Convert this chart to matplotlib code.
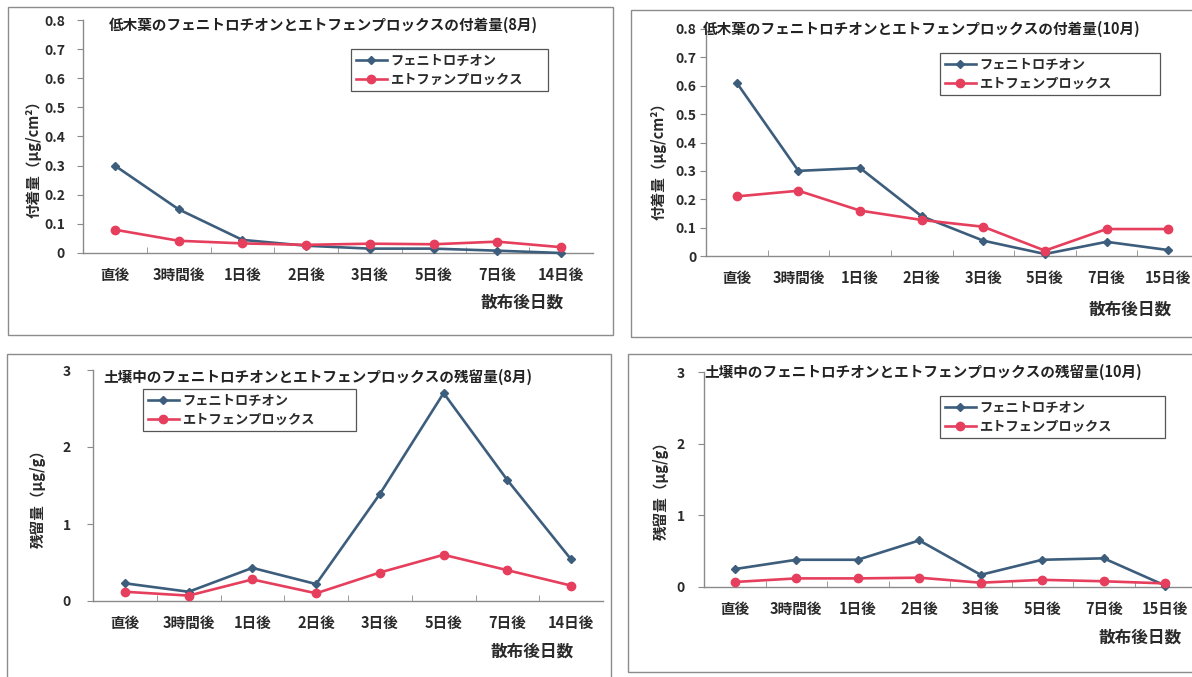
import matplotlib
matplotlib.use('Agg')
import matplotlib.pyplot as plt
from matplotlib.patches import Rectangle
from matplotlib.ticker import FuncFormatter

plt.rcParams['font.family'] = ['Noto Sans CJK JP', 'DejaVu Sans']

# ---------------- data ----------------
cats_aug = ['直後', '3時間後', '1日後', '2日後', '3日後', '5日後', '7日後', '14日後']
cats_oct = ['直後', '3時間後', '1日後', '2日後', '3日後', '5日後', '7日後', '15日後']

leaf_aug_feni = [0.30, 0.15, 0.045, 0.025, 0.015, 0.015, 0.008, 0.0]
leaf_aug_etof = [0.08, 0.042, 0.033, 0.028, 0.032, 0.030, 0.039, 0.020]
leaf_oct_feni = [0.61, 0.30, 0.31, 0.14, 0.054, 0.007, 0.05, 0.021]
leaf_oct_etof = [0.21, 0.23, 0.16, 0.127, 0.103, 0.019, 0.095, 0.095]
soil_aug_feni = [0.23, 0.12, 0.43, 0.22, 1.39, 2.70, 1.57, 0.54]
soil_aug_etof = [0.12, 0.07, 0.28, 0.10, 0.37, 0.60, 0.40, 0.20]
soil_oct_feni = [0.25, 0.38, 0.38, 0.65, 0.17, 0.38, 0.40, 0.02]
soil_oct_etof = [0.07, 0.12, 0.12, 0.13, 0.06, 0.10, 0.08, 0.05]

name_feni = 'フェニトロチオン'
name_etof = 'エトフェンプロックス'
name_etof_typo = 'エトファンプロックス'

W, H = 1192, 677
c_feni = '#3d5d7c'
c_etof = '#e63f5d'
c_axis = '#8a8a8a'
c_txt = '#2a2a2a'

fig = plt.figure(figsize=(W/100, H/100), dpi=100)
fig.patch.set_facecolor('white')


def px_ax(l, r, t, b):
    return fig.add_axes([l/W, 1-b/H, (r-l)/W, (b-t)/H])


def fmt_dec(v, pos):
    if abs(v) < 1e-9:
        return '0'
    return '%.1f' % v


def panel(box, cats, feni, etof, ymax, ystep, title, tpos, ylab, ypos,
          xpos, leg, lab2, ypad, decimals):
    ax = px_ax(*box)
    x = range(len(cats))
    ax.plot(x, feni, '-', color=c_feni, lw=1.9, marker='D', ms=4.5,
            label=name_feni, clip_on=False, zorder=3)
    ax.plot(x, etof, '-', color=c_etof, lw=1.9, marker='o', ms=6,
            label=lab2, clip_on=False, zorder=3)
    ax.set_xlim(-0.5, len(cats)-0.5)
    ax.set_ylim(0, ymax)
    ticks = [i*ystep for i in range(int(round(ymax/ystep))+1)]
    ax.set_yticks(ticks)
    if decimals:
        ax.yaxis.set_major_formatter(FuncFormatter(fmt_dec))
    for t in ax.get_yticklabels():
        t.set_fontweight('bold')
    ax.set_xticks(list(x))
    ax.set_xticklabels(cats, fontsize=10.5, fontweight='bold', color=c_txt)
    ax.set_xticks([i+0.5 for i in range(len(cats)-1)], minor=True)
    ax.tick_params(axis='x', which='major', length=0, pad=10)
    ax.tick_params(axis='x', which='minor', direction='in', length=4, color=c_axis)
    ax.tick_params(axis='y', direction='out', length=4, color=c_axis, pad=ypad,
                   labelsize=10, labelcolor=c_txt)
    for s in ['top', 'right']:
        ax.spines[s].set_visible(False)
    for s in ['left', 'bottom']:
        ax.spines[s].set_color(c_axis)
        ax.spines[s].set_linewidth(1.0)
    fig.text(tpos[0]/W, 1-tpos[1]/H, title, fontsize=10.5, fontweight='bold',
             ha='left', va='center', color='#222222')
    fig.text(ypos[0]/W, 1-ypos[1]/H, ylab, fontsize=10.5, fontweight='bold',
             rotation=90, ha='center', va='center', color=c_txt)
    fig.text(xpos[0]/W, 1-xpos[1]/H, '散布後日数', fontsize=12, fontweight='bold',
             ha='center', va='center', color=c_txt)
    lx0, lx1, ly0 = leg
    lg = ax.legend(loc='upper left', mode='expand',
                   bbox_to_anchor=(lx0/W, 1-ly0/H, (lx1-lx0)/W, 0.01),
                   bbox_transform=fig.transFigure, borderaxespad=0,
                   prop={'size': 9.5, 'weight': 'bold'},
                   handlelength=2.4, handletextpad=0.2,
                   borderpad=0.35, labelspacing=0.35, fancybox=False,
                   framealpha=1, edgecolor='#555555')
    lg.get_frame().set_linewidth(0.9)
    for t in lg.get_texts():
        t.set_color(c_txt)
    return ax


# panel frames
for (l, t, r, b) in [(8, 7, 613, 335), (631, 10, 1200, 337),
                     (7, 354, 611, 680), (628, 354, 1200, 672)]:
    fig.add_artist(Rectangle((l/W, 1-b/H), (r-l)/W, (b-t)/H,
                             transform=fig.transFigure, fill=False,
                             edgecolor='#8c8c8c', lw=1.0))

panel((83, 593, 20, 253), cats_aug, leaf_aug_feni, leaf_aug_etof, 0.8, 0.1,
      '低木葉のフェニトロチオンとエトフェンプロックスの付着量(8月)', (109, 25),
      '付着量（μg/cm²）', (34, 155), (522, 303), (351, 548, 56), name_etof_typo,
      9, True)

panel((706, 1199, 29, 256), cats_oct, leaf_oct_feni, leaf_oct_etof, 0.8, 0.1,
      '低木葉のフェニトロチオンとエトフェンプロックスの付着量(10月)', (703, 29),
      '付着量（μg/cm²）', (659, 158), (1130, 310), (940, 1160, 60), name_etof,
      3, True)

panel((93, 603, 370, 601), cats_aug, soil_aug_feni, soil_aug_etof, 3, 1,
      '土壌中のフェニトロチオンとエトフェンプロックスの残留量(8月)', (103, 377),
      '残留量（μg/g）', (38, 495), (532, 652), (143, 356, 396), name_etof,
      12, False)

panel((704, 1196, 372, 587), cats_oct, soil_oct_feni, soil_oct_etof, 3, 1,
      '土壌中のフェニトロチオンとエトフェンプロックスの残留量(10月)', (704, 372),
      '残留量（μg/g）', (661, 487), (1140, 638), (940, 1165, 403), name_etof,
      10, False)

fig.savefig('out.png', dpi=100, facecolor='white')
